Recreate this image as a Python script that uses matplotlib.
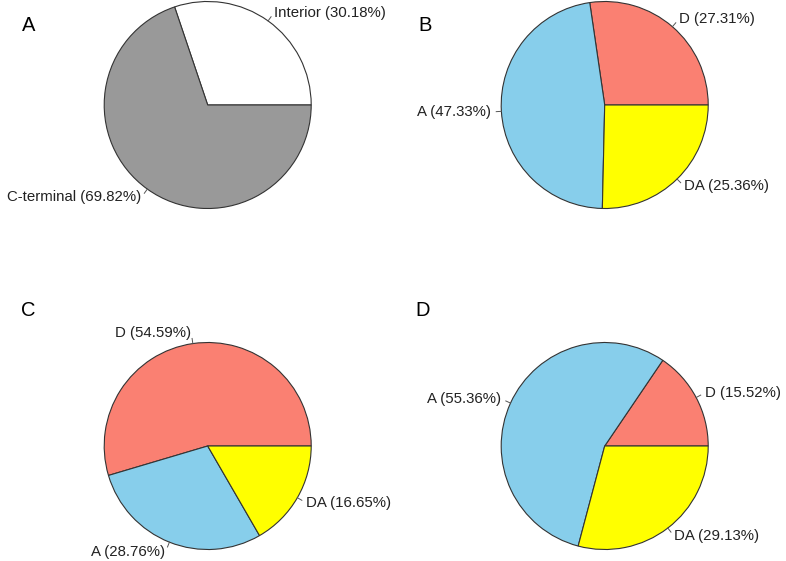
import numpy as np
import matplotlib
matplotlib.use("Agg")
import matplotlib.pyplot as plt

# ---- data ----
panel_letters = ["A", "B", "C", "D"]

a_labels = ["Interior", "C-terminal"]
a_values = [30.18, 69.82]
a_colors = ["white", "#999999"]

b_labels = ["D", "A", "DA"]
b_values = [27.31, 47.33, 25.36]

c_labels = ["D", "A", "DA"]
c_values = [54.59, 28.76, 16.65]

d_labels = ["D", "A", "DA"]
d_values = [15.52, 55.36, 29.13]

group_colors = ["#FA8072", "#87CEEB", "#FFFF00"]

# ---- layout (pixels, y measured from top) ----
W, H = 786, 561
R = 103.5
centers = [(207.7, 105), (604.7, 105), (207.7, 446), (604.7, 446)]
letter_pos = [(29, 25), (425, 25.5), (28.5, 311), (423, 311)]

plt.rcParams['font.family'] = ['Liberation Sans', 'DejaVu Sans']

fig = plt.figure(figsize=(W / 100, H / 100), dpi=100)
ax = fig.add_axes([0, 0, 1, 1])
ax.set_xlim(0, W)
ax.set_ylim(0, H)
ax.set_aspect('equal')
ax.axis('off')


def r_pie(ax, values, labels, colors, cx, cy):
    # mimic base R pie(): counter-clockwise from 3 o'clock, ticks + outside labels
    y = H - cy
    wedges, _ = ax.pie(values, colors=colors, center=(cx, y), radius=R,
                       startangle=0, counterclock=True, normalize=True,
                       wedgeprops=dict(edgecolor='#333333', linewidth=0.8))
    for w, lab, v in zip(wedges, labels, values):
        mid = np.deg2rad((w.theta1 + w.theta2) / 2)
        c, s = np.cos(mid), np.sin(mid)
        ax.plot([cx + R * c, cx + 1.05 * R * c], [y + R * s, y + 1.05 * R * s],
                color='#555555', lw=0.7)
        ax.text(cx + 1.1 * R * c, y + 1.1 * R * s, f"{lab} ({v:.2f}%)",
                ha='left' if c >= 0 else 'right', va='center',
                fontsize=10.8, color='#222222')


r_pie(ax, a_values, a_labels, a_colors, *centers[0])
r_pie(ax, b_values, b_labels, group_colors, *centers[1])
r_pie(ax, c_values, c_labels, group_colors, *centers[2])
r_pie(ax, d_values, d_labels, group_colors, *centers[3])

ax.set_xlim(0, W)
ax.set_ylim(0, H)

for letter, (lx, ly) in zip(panel_letters, letter_pos):
    ax.text(lx, H - ly, letter, ha='center', va='center', fontsize=14.5, color='black')

fig.savefig("out.png", dpi=100)
